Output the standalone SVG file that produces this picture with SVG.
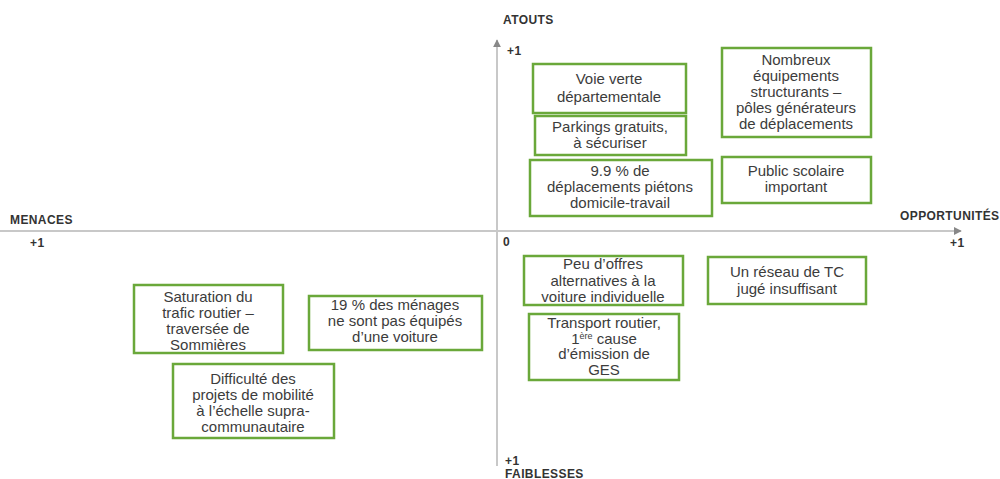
<svg xmlns="http://www.w3.org/2000/svg" width="1000" height="479" viewBox="0 0 1000 479">
<defs>
<style>
.box{fill:#fff;stroke:#6aa83a;stroke-width:2.5}
.t{font-family:"Liberation Sans",Arial,sans-serif;font-size:15px;fill:#3c3c3c;text-anchor:middle}
.lab{font-family:"Liberation Sans",Arial,sans-serif;font-size:12px;font-weight:bold;fill:#333;letter-spacing:0.4px}
.ax{stroke:#c8c8c8;stroke-width:2;fill:none}
</style>
<marker id="ah" viewBox="0 0 10 10" refX="9" refY="5" markerWidth="4" markerHeight="4" orient="auto"><path d="M0,0L10,5L0,10z" fill="#888"/></marker>
</defs>
<rect width="1000" height="479" fill="#fff"/>
<g id="connectors">
<line class="ax" x1="0" y1="231" x2="961" y2="231" marker-end="url(#ah)"/>
<line class="ax" x1="497" y1="466" x2="497" y2="40" marker-end="url(#ah)"/>
</g>
<g id="labels">
<text class="lab" x="503" y="24">ATOUTS</text>
<text class="lab" x="507" y="55">+1</text>
<text class="lab" x="10" y="224">MENACES</text>
<text class="lab" x="30" y="247">+1</text>
<text class="lab" x="900" y="220">OPPORTUNITÉS</text>
<text class="lab" x="950" y="247">+1</text>
<text class="lab" x="503" y="246" font-weight="normal">0</text>
<text class="lab" x="505" y="465">+1</text>
<text class="lab" x="505" y="478">FAIBLESSES</text>
</g>
<g id="n1"><rect class="box" x="533" y="64" width="153" height="49"/><text class="t" x="609" y="84">Voie verte</text><text class="t" x="609" y="102">départementale</text></g>
<g id="n2"><rect class="box" x="535" y="116" width="151" height="39"/><text class="t" x="610" y="132">Parkings gratuits,</text><text class="t" x="610" y="148">à sécuriser</text></g>
<g id="n3"><rect class="box" x="530" y="160" width="182" height="56"/><text class="t" x="620" y="176">9.9 % de</text><text class="t" x="620" y="192">déplacements piétons</text><text class="t" x="620" y="208">domicile-travail</text></g>
<g id="n4"><rect class="box" x="722" y="48" width="149" height="89"/><text class="t" x="796" y="65">Nombreux</text><text class="t" x="796" y="81">équipements</text><text class="t" x="796" y="97">structurants –</text><text class="t" x="796" y="113">pôles générateurs</text><text class="t" x="796" y="129">de déplacements</text></g>
<g id="n5"><rect class="box" x="722" y="157" width="149" height="46"/><text class="t" x="796" y="176">Public scolaire</text><text class="t" x="796" y="192">important</text></g>
<g id="n6"><rect class="box" x="524" y="256" width="159" height="49"/><text class="t" x="603" y="269">Peu d’offres</text><text class="t" x="603" y="286">alternatives à la</text><text class="t" x="603" y="302">voiture individuelle</text></g>
<g id="n7"><rect class="box" x="708" y="257" width="158" height="47"/><text class="t" x="787" y="277">Un réseau de TC</text><text class="t" x="787" y="294">jugé insuffisant</text></g>
<g id="n8"><rect class="box" x="529" y="314" width="150" height="66"/><text class="t" x="604" y="328">Transport routier,</text><text class="t" x="604" y="344">1<tspan font-size="9" dy="-5">ère</tspan><tspan dy="5"> cause</tspan></text><text class="t" x="604" y="359">d’émission de</text><text class="t" x="604" y="375">GES</text></g>
<g id="n9"><rect class="box" x="134" y="285" width="149" height="68"/><text class="t" x="208" y="302">Saturation du</text><text class="t" x="208" y="318">trafic routier –</text><text class="t" x="208" y="334">traversée de</text><text class="t" x="208" y="350">Sommières</text></g>
<g id="n10"><rect class="box" x="309" y="296" width="173" height="54"/><text class="t" x="395" y="310">19 % des ménages</text><text class="t" x="395" y="326">ne sont pas équipés</text><text class="t" x="395" y="342">d’une voiture</text></g>
<g id="n11"><rect class="box" x="173" y="364" width="161" height="74"/><text class="t" x="253" y="384">Difficulté des</text><text class="t" x="253" y="400">projets de mobilité</text><text class="t" x="253" y="416">à l’échelle supra-</text><text class="t" x="253" y="432">communautaire</text></g>
</svg>
